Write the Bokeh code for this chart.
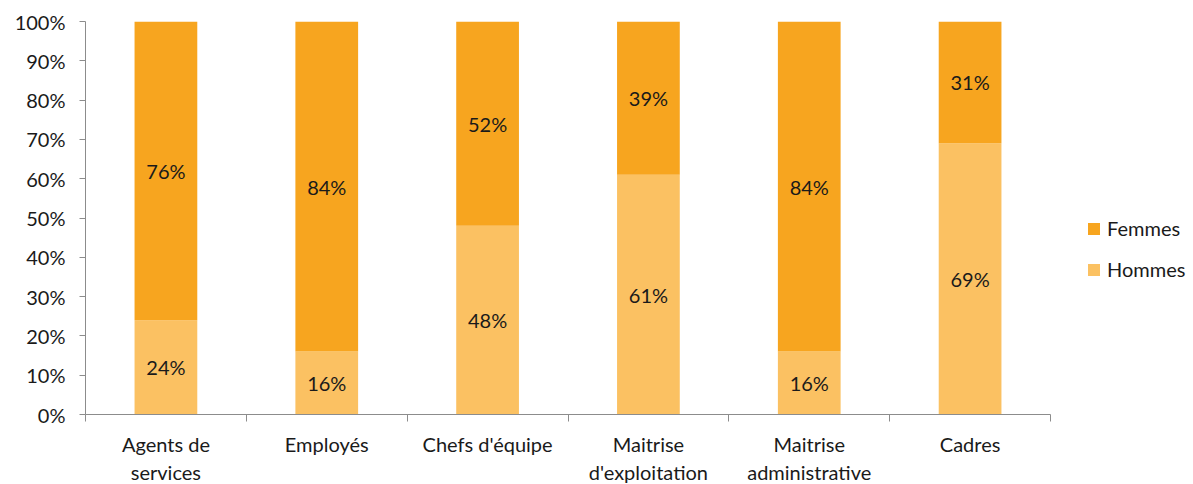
from bokeh.plotting import figure
from bokeh.models import Range1d, FixedTicker, Legend, LegendItem, ColumnDataSource
from bokeh.embed import file_html
from bokeh.resources import INLINE
from bokeh.core.properties import value

categories = ["Agents de\nservices", "Employés", "Chefs d'équipe",
              "Maitrise\nd'exploitation", "Maitrise\nadministrative", "Cadres"]
hommes = [24, 16, 48, 61, 16, 69]
femmes = [76, 84, 52, 39, 84, 31]
y_ticks = [0, 10, 20, 30, 40, 50, 60, 70, 80, 90, 100]
y_tick_labels = ["0%", "10%", "20%", "30%", "40%", "50%", "60%", "70%", "80%", "90%", "100%"]

FONT = "Lato"
FS = "20px"
C_F = "#F7A51F"
C_H = "#FBC162"
AX = "#8c8c8c"
TXT = "#1a1a1a"

n = len(categories)
xs = [i + 0.5 for i in range(n)]
src = ColumnDataSource(dict(
    x=xs, hommes=hommes, femmes=femmes,
    h_mid=[h / 2 for h in hommes],
    f_mid=[h + f / 2 for h, f in zip(hommes, femmes)],
    h_lab=[f"{h}%" for h in hommes],
    f_lab=[f"{f}%" for f in femmes],
))

p = figure(frame_width=965, frame_height=393,
           x_range=Range1d(0, n), y_range=Range1d(0, 100),
           output_backend="svg", toolbar_location=None,
           min_border_left=85, min_border_top=21, min_border_right=10,
           min_border_bottom=0)
p.outline_line_color = None
p.xgrid.grid_line_color = None
p.ygrid.grid_line_color = None

rh, rf = p.vbar_stack(["hommes", "femmes"], x="x", width=0.39, source=src,
                      color=[C_H, C_F], line_color=None)

for col, lab in (("h_mid", "h_lab"), ("f_mid", "f_lab")):
    p.text(x="x", y=col, text=lab, source=src, text_align="center",
           text_baseline="middle", text_font=value(FONT), text_font_size=FS,
           text_color=TXT)

# y axis
ya = p.yaxis[0]
ya.ticker = FixedTicker(ticks=y_ticks, minor_ticks=[])
ya.major_label_overrides = {t: l for t, l in zip(y_ticks, y_tick_labels)}
ya.axis_line_color = AX
ya.major_tick_line_color = AX
ya.major_tick_out = 6
ya.major_tick_in = 0
ya.major_label_standoff = 14
ya.major_label_text_font = FONT
ya.major_label_text_font_size = FS
ya.major_label_text_color = TXT

# x axis
xa = p.xaxis[0]
xa.ticker = FixedTicker(ticks=xs, minor_ticks=list(range(n + 1)))
xa.major_label_overrides = {x: c for x, c in zip(xs, categories)}
xa.axis_line_color = AX
xa.major_tick_line_color = None
xa.major_tick_out = 7
xa.major_tick_in = 0
xa.minor_tick_line_color = AX
xa.minor_tick_out = 7
xa.minor_tick_in = 0
xa.major_label_standoff = 10
xa.major_label_text_font = FONT
xa.major_label_text_font_size = FS
xa.major_label_text_color = TXT

legend = Legend(items=[LegendItem(label="Femmes", renderers=[rf]),
                       LegendItem(label="Hommes", renderers=[rh])],
                location=(36, 133), padding=0, margin=0, spacing=17,
                glyph_width=15, glyph_height=15, label_standoff=6,
                label_text_font=FONT, label_text_font_size=FS,
                label_text_color=TXT, border_line_color=None,
                background_fill_alpha=0)
p.add_layout(legend, "right")

open("out.html", "w").write(file_html(p, INLINE))
